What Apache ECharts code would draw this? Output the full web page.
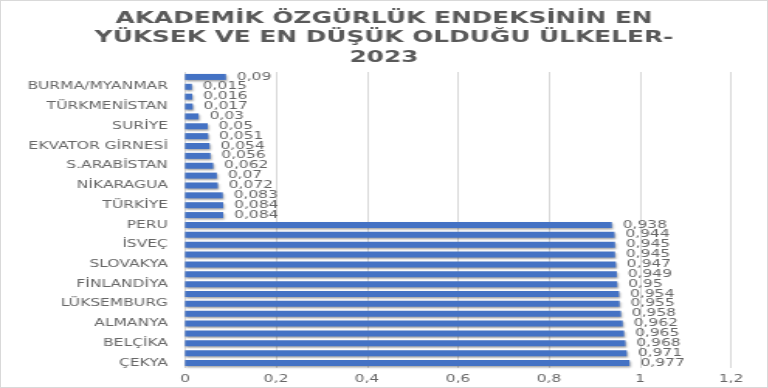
<!DOCTYPE html>
<html>
<head>
<meta charset="utf-8">
<script src="https://cdn.jsdelivr.net/npm/echarts@6/dist/echarts.min.js"></script>
<style>
html,body{margin:0;padding:0;background:#fff;}
#wrap{position:relative;width:768px;height:388px;overflow:hidden;background:#fff;}
#chart{position:absolute;left:0;top:0;height:388px;transform-origin:0 0;}
#border{position:absolute;left:0;top:0;width:768px;height:388px;box-sizing:border-box;border:1px solid #d9d9d9;pointer-events:none;}
</style>
</head>
<body>
<div id="wrap"><div id="chart"></div><div id="border"></div></div>
<script>
// Data (top to bottom as drawn)
var titleText = "AKADEMİK ÖZGÜRLÜK ENDEKSİNİN EN\nYÜKSEK VE EN DÜŞÜK OLDUĞU ÜLKELER-\n2023";
var categories = [
  "ÇİN", "BURMA/MYANMAR", "K.KORE", "TÜRKMENİSTAN", "ERİTRE", "SURİYE", "İRAN",
  "EKVATOR GİRNESİ", "BELARUS", "S.ARABİSTAN", "KÜBA", "NİKARAGUA", "AZERBAYCAN",
  "TÜRKİYE", "BAHREYN", "PERU", "PORTEKİZ", "İSVEÇ", "ARJANTİN", "SLOVAKYA",
  "AVUSTURYA", "FİNLANDİYA", "ESTONYA", "LÜKSEMBURG", "DANİMARKA", "ALMANYA",
  "URUGUAY", "BELÇİKA", "İTALYA", "ÇEKYA"
];
var values = [
  0.09, 0.015, 0.016, 0.017, 0.03, 0.05, 0.051,
  0.054, 0.056, 0.062, 0.07, 0.072, 0.083,
  0.084, 0.084, 0.938, 0.944, 0.945, 0.945, 0.947,
  0.949, 0.95, 0.954, 0.955, 0.958, 0.962,
  0.965, 0.968, 0.971, 0.977
];
var xTicks = { min: 0, max: 1.2, interval: 0.2 };

var S = 1.55;
var W = 768 / S;
var el = document.getElementById('chart');
el.style.width = W + 'px';
el.style.transform = 'scaleX(' + S + ')';

function comma(v){ return String(v).replace('.', ','); }

var chart = echarts.init(el, null, {renderer: 'canvas', width: W, height: 388});
var grey = '#595959';
var lightGrey = '#666666';
chart.setOption({
  animation: false,
  backgroundColor: 'transparent',
  title: {
    text: titleText,
    left: 'center',
    top: 4,
    textStyle: {
      fontFamily: 'DejaVu Sans',
      fontWeight: 'bold',
      fontSize: 16,
      lineHeight: 19.5,
      color: grey
    }
  },
  grid: { left: 185 / S, right: 37 / S, top: 72, bottom: 20, containLabel: false },
  xAxis: {
    type: 'value',
    min: xTicks.min, max: xTicks.max, interval: xTicks.interval,
    axisLine: { show: false },
    axisTick: { show: false },
    splitLine: { show: true, lineStyle: { color: '#d9d9d9', width: 1 } },
    axisLabel: {
      margin: 6,
      color: lightGrey,
      fontFamily: 'DejaVu Sans',
      fontSize: 10,
      formatter: function(v){ return comma(+v.toFixed(1)); }
    }
  },
  yAxis: {
    type: 'category',
    inverse: true,
    data: categories,
    axisLine: { show: false },
    axisTick: { show: false },
    axisLabel: {
      interval: function(i){ return i % 2 === 1; },
      margin: 11,
      color: lightGrey,
      fontFamily: 'DejaVu Sans',
      fontSize: 10
    }
  },
  series: [{
    type: 'bar',
    data: values,
    barWidth: 6,
    itemStyle: {
      color: '#4472C4',
      shadowColor: 'rgba(0,0,0,0.35)',
      shadowBlur: 2,
      shadowOffsetX: 0.7,
      shadowOffsetY: 1.5
    },
    label: {
      show: true,
      position: 'right',
      distance: 7,
      color: lightGrey,
      fontFamily: 'DejaVu Sans',
      fontSize: 10,
      formatter: function(p){ return comma(p.value); }
    }
  }]
});
</script>
</body>
</html>
